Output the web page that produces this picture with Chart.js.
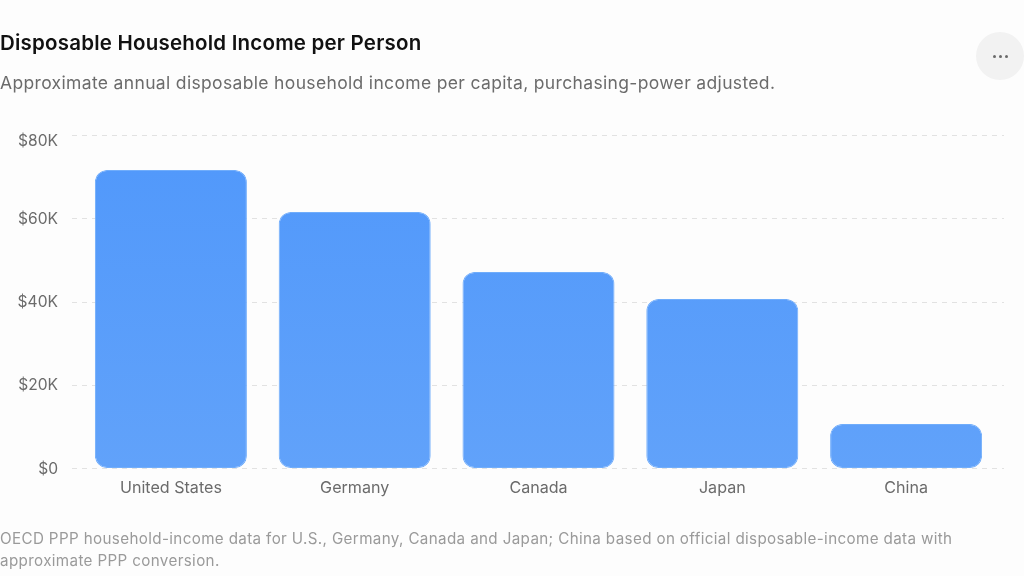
<!DOCTYPE html>
<html><head><meta charset="utf-8">
<script src="https://cdn.jsdelivr.net/npm/chart.js@4"></script>
<style>
html,body{margin:0;padding:0;width:1024px;height:576px;overflow:hidden;background:#fdfdfd;font-family:Inter,sans-serif}
#wrap{position:absolute;left:0;top:0;width:1024px;height:576px}
canvas{position:absolute;left:0;top:0}
.t{position:absolute;left:0;white-space:nowrap}
#title{top:31px;font-size:20.5px;font-weight:600;color:#111;line-height:24px;letter-spacing:.21px}
#sub{top:71px;font-size:17.5px;color:#6b6b6b;line-height:24px;letter-spacing:.34px}
#foot{top:528px;font-size:15.2px;color:#9a9a9a;line-height:22px;letter-spacing:.36px}
#more{position:absolute;left:976px;top:32px;width:48px;height:48px;border-radius:50%;background:#f2f2f2}
#more i{position:absolute;top:22.5px;width:3.5px;height:3.5px;border-radius:50%;background:#6a6a6a}
</style></head><body>
<div id="wrap">
<canvas id="c" width="1024" height="576"></canvas>
<div class="t" id="title">Disposable Household Income per Person</div>
<div class="t" id="sub">Approximate annual disposable household income per capita, purchasing-power adjusted.</div>
<div class="t" id="foot">OECD PPP household-income data for U.S., Germany, Canada and Japan; China based on official disposable-income data with<br>approximate PPP conversion.</div>
<div id="more"><i style="left:16.5px"></i><i style="left:22.5px"></i><i style="left:28.5px"></i></div>
</div>
<script>
const categories=["United States","Germany","Canada","Japan","China"];
const income=[71600,61500,47100,40600,10600];
const axisMax=80000;
const tickStep=20000;

const dashedGrid={id:'dashedGrid',
 beforeDraw(chart){
  const y=chart.scales.y;
  y.getLabelItems(chart.chartArea).forEach(it=>{
    const tr=it.options.translation;
    if(!it.shifted){tr[1]+=(it.label==='$80K')?6:1;it.shifted=true;}
  });
 },
 beforeDatasetsDraw(chart){
  const {ctx,chartArea:a,scales:{y}}=chart;
  ctx.save();ctx.strokeStyle='#e2e2e2';ctx.lineWidth=1;ctx.setLineDash([5,5]);
  y.ticks.forEach(t=>{const p=Math.round(y.getPixelForValue(t.value))+.5;
    ctx.beginPath();ctx.moveTo(a.left-7,p);ctx.lineTo(a.right+6,p);ctx.stroke();});
  ctx.restore();
}};
new Chart(document.getElementById('c'),{
  type:'bar',
  data:{labels:categories,datasets:[{data:income,
    backgroundColor(ctx){const c=ctx.chart,a=c.chartArea;if(!a)return '#5299fb';
      const g=c.ctx.createLinearGradient(0,c.scales.y.getPixelForValue(71600),0,a.bottom);
      g.addColorStop(0,'#5299fb');g.addColorStop(1,'#61a2fa');return g;},
    borderColor:'#70adfb',borderWidth:1,borderRadius:12,borderSkipped:false,
    categoryPercentage:1,barPercentage:.827}]},
  options:{responsive:false,animation:false,
    layout:{padding:{left:0,right:26,top:135,bottom:69}},
    plugins:{legend:{display:false},tooltip:{enabled:false}},
    scales:{
      x:{afterFit(s){s.height=39;},grid:{display:false},border:{display:false},
        ticks:{color:'#6b6b6b',font:{family:'Inter',size:16.1},padding:2,maxRotation:0}},
      y:{min:0,max:axisMax,afterFit(s){s.width=79;},grid:{display:false},border:{display:false},
        ticks:{stepSize:tickStep,color:'#6b6b6b',font:{family:'Inter',size:15.6},padding:13,
          callback:v=>v===0?'$0':'$'+(v/1000)+'K'}}
    }},
  plugins:[dashedGrid]
});
</script>
</body></html>
